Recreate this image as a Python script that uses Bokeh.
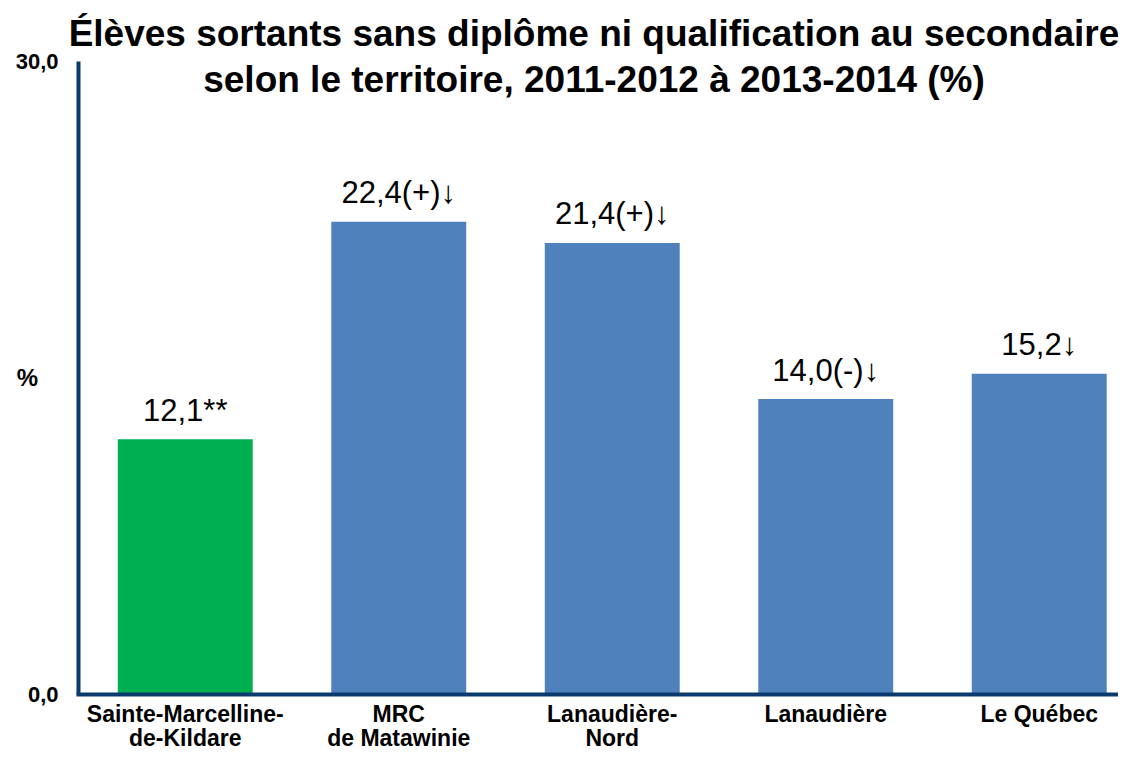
from bokeh.plotting import figure
from bokeh.models import ColumnDataSource, Range1d, FixedTicker, Label, LinearAxis
from bokeh.embed import file_html
from bokeh.resources import INLINE

# ---- data ----
categories = ["Sainte-Marcelline-\nde-Kildare", "MRC\nde Matawinie", "Lanaudière-\nNord",
              "Lanaudière", "Le Québec"]
values = [12.1, 22.4, 21.4, 14.0, 15.2]
value_labels = ["12,1**", "22,4(+)↓", "21,4(+)↓", "14,0(-)↓", "15,2↓"]
bar_colors = ["#00B050", "#4F81BD", "#4F81BD", "#4F81BD", "#4F81BD"]
y_ticks = [0, 30]
y_tick_labels = ["0,0", "30,0"]
title_lines = ["Élèves sortants sans diplôme ni qualification au secondaire",
               "selon le territoire, 2011-2012 à 2013-2014 (%)"]
y_unit = "%"

FONT = "Liberation Sans"
AXIS_COLOR = "#0B3B6E"

xs = list(range(len(categories)))
line1 = [c.split("\n")[0] for c in categories]
line2 = [c.split("\n")[1] if "\n" in c else "" for c in categories]

src = ColumnDataSource(dict(x=xs, top=values, lab=value_labels, color=bar_colors))

X0, X1 = -0.5, 4.3712          # axis extent in data units
p = figure(width=1118, height=752, output_backend="svg", toolbar_location=None,
           x_range=Range1d(-0.8653, X1), y_range=Range1d(-2.749, 32.891),
           min_border=0)
p.outline_line_color = None
p.xgrid.grid_line_color = None
p.ygrid.grid_line_color = None
p.background_fill_color = "white"
p.border_fill_color = "white"

p.vbar(x="x", top="top", bottom=0, width=0.632, color="color", line_color=None, source=src)
p.text(x="x", y="top", text="lab", source=src, text_align="center", text_baseline="alphabetic",
       y_offset=-29, text_font_size="31px", text_color="black", text_font={"value": FONT})


def style_x(ax, labels, standoff, show_line):
    ax.fixed_location = 0
    ax.bounds = (X0 - 0.01, X1)
    ax.ticker = FixedTicker(ticks=xs)
    ax.major_label_overrides = {i: c for i, c in zip(xs, labels)}
    ax.axis_line_color = AXIS_COLOR if show_line else None
    ax.axis_line_width = 4
    ax.major_tick_line_color = None
    ax.minor_tick_line_color = None
    ax.major_tick_out = 0
    ax.major_tick_in = 0
    ax.major_label_standoff = standoff
    ax.major_label_text_font = FONT
    ax.major_label_text_font_size = "23px"
    ax.major_label_text_font_style = "bold"
    ax.major_label_text_color = "black"


style_x(p.xaxis[0], line1, 7, True)
ax2 = LinearAxis()
p.add_layout(ax2, "below")
style_x(ax2, line2, 31, False)

# y axis
ya = p.yaxis[0]
ya.fixed_location = X0
ya.bounds = (0, 30)
ya.ticker = FixedTicker(ticks=y_ticks)
ya.major_label_overrides = {t: l for t, l in zip(y_ticks, y_tick_labels)}
ya.axis_line_color = AXIS_COLOR
ya.axis_line_width = 4
ya.major_tick_line_color = None
ya.minor_tick_line_color = None
ya.major_tick_out = 0
ya.major_tick_in = 0
ya.major_label_standoff = 20
ya.major_label_text_font = FONT
ya.major_label_text_font_size = "22px"
ya.major_label_text_font_style = "bold"
ya.major_label_text_color = "black"

# "%" unit label
p.add_layout(Label(x=X0, x_offset=-51, y=15, text=y_unit, text_font=FONT, text_font_size="24px",
                   text_font_style="bold", text_align="center", text_baseline="middle",
                   text_color="black"))

# title lines
title_x = 1.9145
p.add_layout(Label(x=title_x, y=30, y_offset=28, text=title_lines[0], text_font=FONT,
                   text_font_size="37px", text_font_style="bold", text_align="center",
                   text_baseline="alphabetic", text_color="black"))
p.add_layout(Label(x=title_x, y=30, y_offset=-18, text=title_lines[1], text_font=FONT,
                   text_font_size="37px", text_font_style="bold", text_align="center",
                   text_baseline="alphabetic", text_color="black"))

open("out.html", "w").write(file_html(p, INLINE))
